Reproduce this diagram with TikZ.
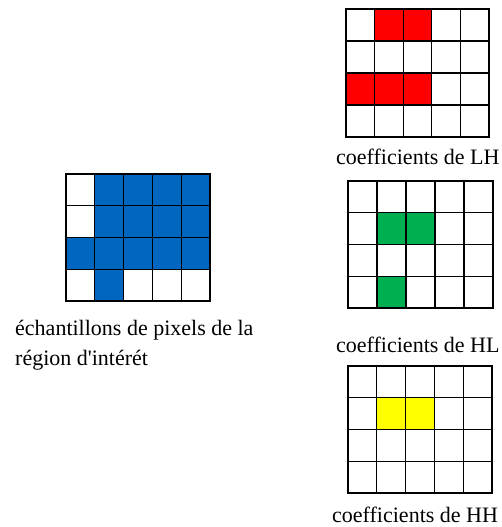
\documentclass[tikz,border=0pt]{standalone}
\usepackage{fontspec}
\setmainfont{Liberation Serif}
\usetikzlibrary{positioning}

\definecolor{pixblue}{RGB}{0,102,192}
\definecolor{coefred}{RGB}{255,0,0}
\definecolor{coefgreen}{RGB}{0,176,80}
\definecolor{coefyellow}{RGB}{255,255,0}

% one 5x4 grid: x0, y0, cell width, cell height, colour, list of filled cells col/row
\newcommand{\pixgrid}[6]{%
  \begin{scope}[shift={(#1,#2)},x=#3pt,y=-#4pt]
    \foreach \c/\r in {#6} {\fill[#5] (\c,\r) rectangle ++(1,1);}
    \foreach \i in {0,...,5} {\draw[gridline] (\i,0) -- (\i,4);}
    \foreach \j in {0,...,4} {\draw[gridline] (0,\j) -- (5,\j);}
  \end{scope}}

\begin{document}
\begin{tikzpicture}[x=1pt,y=-1pt]
\tikzset{
  gridline/.style={draw=black,line width=1.2pt,line cap=rect},
  caption/.style={anchor=base west,inner sep=0pt,font=\fontsize{22}{30}\selectfont}
}
\useasboundingbox (0,0) rectangle (501,527);
% pixel samples
\pixgrid{66}{174}{28.8}{31.75}{pixblue}{1/0,2/0,3/0,4/0,1/1,2/1,3/1,4/1,0/2,1/2,2/2,3/2,4/2,1/3}
\node[caption] (lbl_pix_a) at (15,335) {échantillons de pixels de la};
\node[caption] (lbl_pix_b) at (15,365) {région d\textquotesingle intérét};
% LH
\pixgrid{346}{9}{28.6}{32}{coefred}{1/0,2/0,0/2,1/2,2/2}
\node[caption] (lbl_lh) at (336,164) {coefficients de LH};
% HL
\pixgrid{348}{181}{29}{31.75}{coefgreen}{1/1,2/1,1/3}
\node[caption] (lbl_hl) at (336,352) {coefficients de HL};
% HH
\pixgrid{348}{366}{28.8}{31.75}{coefyellow}{1/1,2/1}
\node[caption] (lbl_hh) at (332,522) {coefficients de HH};
\end{tikzpicture}
\end{document}
